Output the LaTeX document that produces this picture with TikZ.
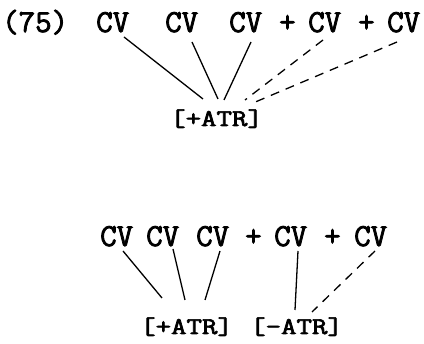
\documentclass[tikz,border=0pt]{standalone}
\usepackage{fontspec}
\newfontfamily\tw{Latin Modern Mono}[FakeBold=2.5]
\begin{document}
\begin{tikzpicture}[x=1pt,y=-1pt,
  txt/.style={font=\tw\fontsize{32}{34}\selectfont, inner sep=0pt, anchor=base west},
  feat/.style={font=\tw\fontsize{30}{32}\selectfont, inner sep=0pt, anchor=base west},
  assoc/.style={line width=1.3pt},
  newassoc/.style={line width=1.3pt, dash pattern=on 9pt off 7pt}]
\useasboundingbox (0,0) rectangle (424,344);
% top example
\node[txt] (n75) at (2,32) {(75)};
\node[txt] (t1) at (96,32) {CV};
\node[txt] (t2) at (165,32) {CV};
\node[txt] (t3) at (229,32) {CV};
\node[txt] (p1) at (279,32) {+};
\node[txt] (t4) at (308,32) {CV};
\node[txt] (p2) at (358,32) {+};
\node[txt] (t5) at (387,32) {CV};
\node[feat] (a1) at (170,126) {\scalebox{1}[0.8]{[+ATR]}};
\draw[assoc] ([shift={(28,5)}]t1.base west) -- ([shift={(33,-27)}]a1.base west);
\draw[assoc] ([shift={(27,10)}]t2.base west) -- ([shift={(48,-27)}]a1.base west);
\draw[assoc] ([shift={(22,10)}]t3.base west) -- ([shift={(54,-26)}]a1.base west);
\draw[newassoc] ([shift={(15,8)}]t4.base west) -- ([shift={(75,-26)}]a1.base west);
\draw[newassoc] ([shift={(10,10)}]t5.base west) -- ([shift={(83,-23)}]a1.base west);
% bottom example
\node[txt] (b1) at (100,246) {CV};
\node[txt] (b2) at (146,246) {CV};
\node[txt] (b3) at (196,246) {CV};
\node[txt] (q1) at (245,246) {+};
\node[txt] (b4) at (274,246) {CV};
\node[txt] (q2) at (324,246) {+};
\node[txt] (b5) at (354,246) {CV};
\node[feat] (c1) at (140,334) {\scalebox{1}[0.8]{[+ATR]}};
\node[feat] (c2) at (250,334) {\scalebox{1}[0.8]{[-ATR]}};
\draw[assoc] ([shift={(23,5)}]b1.base west) -- ([shift={(22,-36)}]c1.base west);
\draw[assoc] ([shift={(27,3)}]b2.base west) -- ([shift={(45,-34)}]c1.base west);
\draw[assoc] ([shift={(24,5)}]b3.base west) -- ([shift={(65,-34)}]c1.base west);
\draw[assoc] ([shift={(24,5)}]b4.base west) -- ([shift={(45,-24)}]c2.base west);
\draw[newassoc] ([shift={(21,5)}]b5.base west) -- ([shift={(62,-22)}]c2.base west);
\end{tikzpicture}
\end{document}
